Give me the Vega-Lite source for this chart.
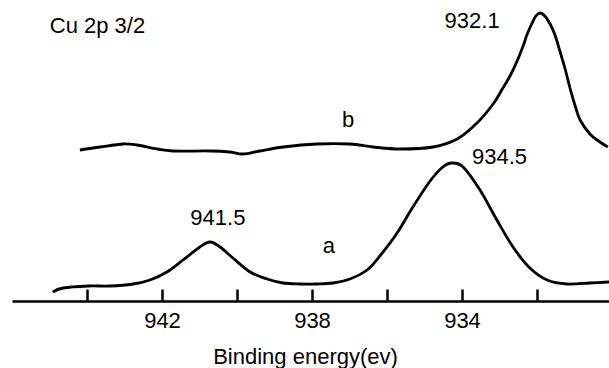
{
  "$schema": "https://vega.github.io/schema/vega-lite/v6.json",
  "width": 600,
  "height": 301,
  "autosize": {"type": "none"},
  "padding": {"left": 12, "top": 0, "right": 0, "bottom": 67},
  "background": "white",
  "config": {"view": {"stroke": null}, "font": "Liberation Sans"},
  "datasets": {
    "curves": [
      {"curve": "a", "energy": 944.91, "intensity": 9},
      {"curve": "a", "energy": 944.64, "intensity": 13},
      {"curve": "a", "energy": 943.97, "intensity": 15},
      {"curve": "a", "energy": 943.39, "intensity": 15},
      {"curve": "a", "energy": 942.77, "intensity": 17},
      {"curve": "a", "energy": 942.32, "intensity": 21},
      {"curve": "a", "energy": 941.87, "intensity": 29},
      {"curve": "a", "energy": 941.44, "intensity": 41},
      {"curve": "a", "energy": 940.99, "intensity": 54},
      {"curve": "a", "energy": 940.72, "intensity": 59},
      {"curve": "a", "energy": 940.45, "intensity": 54},
      {"curve": "a", "energy": 940.11, "intensity": 43},
      {"curve": "a", "energy": 939.65, "intensity": 29},
      {"curve": "a", "energy": 939.2, "intensity": 22},
      {"curve": "a", "energy": 938.77, "intensity": 18},
      {"curve": "a", "energy": 938.32, "intensity": 17},
      {"curve": "a", "energy": 937.87, "intensity": 17},
      {"curve": "a", "energy": 937.44, "intensity": 18},
      {"curve": "a", "energy": 936.99, "intensity": 22},
      {"curve": "a", "energy": 936.53, "intensity": 31},
      {"curve": "a", "energy": 936.19, "intensity": 45},
      {"curve": "a", "energy": 935.73, "intensity": 68},
      {"curve": "a", "energy": 935.31, "intensity": 94},
      {"curve": "a", "energy": 934.85, "intensity": 120},
      {"curve": "a", "energy": 934.51, "intensity": 134},
      {"curve": "a", "energy": 934.27, "intensity": 138},
      {"curve": "a", "energy": 933.97, "intensity": 134},
      {"curve": "a", "energy": 933.52, "intensity": 111},
      {"curve": "a", "energy": 933.07, "intensity": 81},
      {"curve": "a", "energy": 932.64, "intensity": 54},
      {"curve": "a", "energy": 932.19, "intensity": 33},
      {"curve": "a", "energy": 931.73, "intensity": 21},
      {"curve": "a", "energy": 931.2, "intensity": 17},
      {"curve": "a", "energy": 930.59, "intensity": 18},
      {"curve": "a", "energy": 930.08, "intensity": 19},
      {"curve": "b", "energy": 944.19, "intensity": 151},
      {"curve": "b", "energy": 943.65, "intensity": 154},
      {"curve": "b", "energy": 943.04, "intensity": 157},
      {"curve": "b", "energy": 942.67, "intensity": 156},
      {"curve": "b", "energy": 942.13, "intensity": 152},
      {"curve": "b", "energy": 941.71, "intensity": 150},
      {"curve": "b", "energy": 940.72, "intensity": 150},
      {"curve": "b", "energy": 940.19, "intensity": 149},
      {"curve": "b", "energy": 939.84, "intensity": 147},
      {"curve": "b", "energy": 939.39, "intensity": 150},
      {"curve": "b", "energy": 938.77, "intensity": 154},
      {"curve": "b", "energy": 937.87, "intensity": 157},
      {"curve": "b", "energy": 936.99, "intensity": 157},
      {"curve": "b", "energy": 936.37, "intensity": 154},
      {"curve": "b", "energy": 935.65, "intensity": 152},
      {"curve": "b", "energy": 934.77, "intensity": 154},
      {"curve": "b", "energy": 934.13, "intensity": 162},
      {"curve": "b", "energy": 933.6, "intensity": 178},
      {"curve": "b", "energy": 933.17, "intensity": 197},
      {"curve": "b", "energy": 932.91, "intensity": 213},
      {"curve": "b", "energy": 932.72, "intensity": 225},
      {"curve": "b", "energy": 932.53, "intensity": 240},
      {"curve": "b", "energy": 932.37, "intensity": 255},
      {"curve": "b", "energy": 932.27, "intensity": 266},
      {"curve": "b", "energy": 932.13, "intensity": 278},
      {"curve": "b", "energy": 932.03, "intensity": 285},
      {"curve": "b", "energy": 931.92, "intensity": 288},
      {"curve": "b", "energy": 931.79, "intensity": 285},
      {"curve": "b", "energy": 931.65, "intensity": 277},
      {"curve": "b", "energy": 931.52, "intensity": 266},
      {"curve": "b", "energy": 931.39, "intensity": 250},
      {"curve": "b", "energy": 931.25, "intensity": 232},
      {"curve": "b", "energy": 931.12, "intensity": 213},
      {"curve": "b", "energy": 930.99, "intensity": 196},
      {"curve": "b", "energy": 930.85, "intensity": 181},
      {"curve": "b", "energy": 930.59, "intensity": 167},
      {"curve": "b", "energy": 930.32, "intensity": 159},
      {"curve": "b", "energy": 930.11, "intensity": 154}
    ],
    "labels": [
      {"text": "Cu 2p 3/2", "energy": 943.72, "intensity": 268},
      {"text": "932.1", "energy": 933.73, "intensity": 273},
      {"text": "b", "energy": 937.04, "intensity": 174},
      {"text": "934.5", "energy": 933.0, "intensity": 137},
      {"text": "941.5", "energy": 940.51, "intensity": 76},
      {"text": "a", "energy": 937.55, "intensity": 48}
    ]
  },
  "layer": [
    {
      "data": {"name": "curves"},
      "mark": {"type": "line", "color": "black", "strokeWidth": 2.8, "interpolate": "cardinal", "clip": true},
      "encoding": {
        "x": {
          "field": "energy",
          "type": "quantitative",
          "scale": {"domain": [930, 946], "reverse": true, "nice": false, "zero": false},
          "axis": {
            "title": "Binding energy(ev)",
            "values": [944, 942, 940, 938, 936, 934, 932],
            "labelExpr": "datum.value % 4 == 2 ? datum.label : ''",
            "format": "d",
            "tickSize": -12,
            "tickWidth": 2.5,
            "tickColor": "black",
            "domainColor": "black",
            "domainWidth": 2.5,
            "grid": false,
            "labelFontSize": 22,
            "labelFont": "Liberation Sans",
            "labelColor": "black",
            "labelPadding": 38,
            "labelBaseline": "alphabetic",
            "labelFlush": false,
            "labelOverlap": false,
            "titleFont": "Liberation Sans",
            "titleFontSize": 22,
            "titleFontWeight": "normal",
            "titleColor": "black",
            "titleX": 293,
            "titleY": 62,
            "titleBaseline": "alphabetic",
            "titleAlign": "center"
          }
        },
        "y": {
          "field": "intensity",
          "type": "quantitative",
          "scale": {"domain": [0, 301], "nice": false, "zero": false},
          "axis": null
        },
        "detail": {"field": "curve", "type": "nominal"}
      }
    },
    {
      "data": {"name": "labels"},
      "mark": {"type": "text", "fontSize": 22, "font": "Liberation Sans", "baseline": "alphabetic", "align": "center", "color": "black"},
      "encoding": {
        "x": {"field": "energy", "type": "quantitative"},
        "y": {"field": "intensity", "type": "quantitative"},
        "text": {"field": "text", "type": "nominal"}
      }
    }
  ]
}
